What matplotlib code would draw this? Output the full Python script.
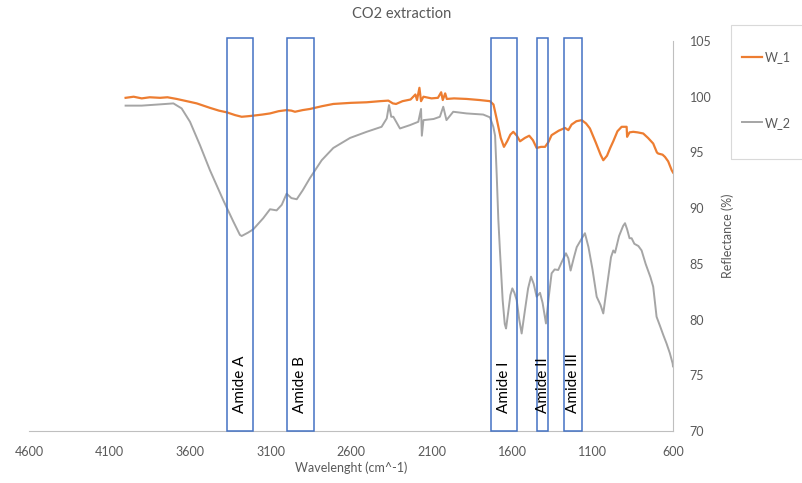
import matplotlib
matplotlib.use('Agg')
import matplotlib.pyplot as plt
from matplotlib.patches import Rectangle

plt.rcParams['font.family'] = ['Lato', 'DejaVu Sans']

# W_1 spectrum (wavenumber, reflectance)
wn1 = [4000, 3950, 3900, 3850, 3786, 3740, 3683, 3620, 3558, 3476, 3420, 3372,
       3320, 3279, 3240, 3207, 3150, 3103, 3050, 3000, 2970, 2948, 2900, 2855,
       2780, 2710, 2600, 2503, 2420, 2368, 2340, 2320, 2280, 2230, 2200, 2190,
       2175, 2165, 2150, 2100, 2060, 2040, 2030, 2015, 2005, 1960, 1882, 1800,
       1737, 1715, 1695, 1670, 1650, 1630, 1610, 1592, 1570, 1550, 1520, 1493,
       1470, 1447, 1420, 1395, 1375, 1354, 1310, 1271, 1250, 1230, 1200, 1167,
       1140, 1116, 1080, 1050, 1033, 1010, 990, 971, 945, 919, 888, 885, 870,
       847, 820, 785, 755, 723, 700, 692, 665, 650, 630, 608, 600]
r1 = [99.9, 100.0, 99.85, 99.95, 99.9, 99.95, 99.8, 99.6, 99.4, 99.0, 98.75, 98.6,
      98.35, 98.2, 98.25, 98.3, 98.4, 98.5, 98.7, 98.8, 98.75, 98.65, 98.8, 98.9,
      99.15, 99.35, 99.45, 99.5, 99.6, 99.65, 99.4, 99.35, 99.6, 99.75, 100.2, 99.7,
      100.8, 99.6, 100.0, 99.85, 99.9, 100.4, 99.7, 100.3, 99.8, 99.85, 99.8, 99.7,
      99.6, 99.3, 98.0, 96.3, 95.5, 96.0, 96.6, 96.85, 96.5, 96.0, 96.3, 96.5,
      96.1, 95.4, 95.5, 95.5, 95.9, 96.55, 96.95, 97.2, 97.0, 97.5, 97.8, 97.9,
      97.6, 97.15, 95.9, 94.8, 94.3, 94.7, 95.4, 96.0, 96.9, 97.3, 97.3, 96.4, 96.8,
      96.85, 96.8, 96.7, 96.3, 95.8, 95.0, 94.9, 94.8, 94.6, 94.2, 93.4, 93.2]

# W_2 spectrum
wn2 = [4000, 3900, 3800, 3703, 3652, 3600, 3538, 3476, 3393, 3331, 3290, 3279,
       3240, 3207, 3145, 3103, 3062, 3030, 3000, 2970, 2937, 2900, 2855, 2782,
       2710, 2606, 2503, 2410, 2378, 2364, 2350, 2337, 2296, 2234, 2182, 2165,
       2160, 2150, 2087, 2048, 2027, 2007, 1965, 1882, 1779, 1737, 1716, 1705,
       1695, 1685, 1675, 1658, 1645, 1637, 1625, 1610, 1598, 1585, 1571, 1555,
       1540, 1520, 1500, 1482, 1465, 1447, 1426, 1410, 1389, 1372, 1354, 1335,
       1313, 1290, 1265, 1250, 1236, 1215, 1198, 1170, 1147, 1125, 1100, 1074,
       1050, 1033, 1010, 985, 971, 960, 935, 910, 898, 885, 870, 857, 840, 815,
       795, 770, 740, 723, 702, 680, 660, 640, 620, 602, 600]
r2 = [99.2, 99.2, 99.3, 99.4, 98.95, 97.75, 95.65, 93.4, 90.7, 88.8, 87.6, 87.5,
      87.8, 88.1, 89.1, 89.9, 89.8, 90.3, 91.3, 90.9, 90.8, 91.6, 92.7, 94.3,
      95.4, 96.3, 96.85, 97.3, 98.05, 99.25, 98.2, 98.2, 97.15, 97.45, 97.75, 98.9,
      96.5, 97.9, 98.0, 98.2, 99.1, 97.9, 98.65, 98.5, 98.4, 98.15, 97.3, 96.5,
      93.0, 89.0, 86.2, 81.75, 79.6, 79.2, 80.5, 82.2, 82.8, 82.4, 81.75, 80.0,
      78.75, 80.8, 82.8, 83.85, 83.2, 82.05, 82.4, 81.5, 79.65, 82.0, 84.15, 84.5,
      84.45, 85.2, 85.95, 85.5, 84.4, 85.6, 86.5, 87.2, 87.75, 86.5, 84.5, 82.05,
      81.3, 80.55, 83.0, 85.6, 86.2, 86.0, 87.5, 88.4, 88.65, 88.1, 87.3, 87.3, 86.8, 86.6,
      86.2, 85.0, 83.8, 82.95, 80.25, 79.4, 78.6, 77.85, 77.0, 76.05, 75.8]

# amide bands (start, end wavenumber)
band_names = ['Amide A', 'Amide B', 'Amide I', 'Amide II', 'Amide III']
band_hi = [3372, 3000, 1732, 1443, 1277]
band_lo = [3207, 2830, 1571, 1375, 1163]

fig = plt.figure(figsize=(8.03, 4.83), dpi=100)
ax = fig.add_axes([29 / 803, 52 / 483, 644 / 803, 390 / 483])

ax.plot(wn1, r1, color='#ED7D31', lw=1.6, label='W_1')
ax.plot(wn2, r2, color='#A5A5A5', lw=1.4, label='W_2')

for name, hi, lo in zip(band_names, band_hi, band_lo):
    ax.add_patch(Rectangle((lo, 70), hi - lo, 35.25, fill=False,
                           edgecolor='#4472C4', lw=1.1, clip_on=False, zorder=3))
    ax.text((hi + lo) / 2, 71.6, name, rotation=90, ha='center', va='bottom',
            fontsize=11, color='black')

ax.set_xlim(4600, 600)
ax.set_ylim(70, 105)
ax.set_xticks([4600, 4100, 3600, 3100, 2600, 2100, 1600, 1100, 600])
ax.set_yticks([70, 75, 80, 85, 90, 95, 100, 105])
ax.yaxis.tick_right()
ax.yaxis.set_label_position('right')
ax.tick_params(length=0, labelsize=9, labelcolor='#595959')
ax.tick_params(axis='x', pad=11)
ax.tick_params(axis='y', pad=12)

for s in ['left', 'top']:
    ax.spines[s].set_visible(False)
ax.spines['bottom'].set_color('#bfbfbf')
ax.spines['right'].set_color('#bfbfbf')

ax.set_xlabel('Wavelenght (cm^-1)', fontsize=9, color='#595959', labelpad=2)
ax.set_ylabel('Reflectance (%)', fontsize=9, color='#595959', labelpad=7)
fig.suptitle('CO2 extraction', fontsize=10.5, color='#595959', y=0.985)

# legend: box runs off the right edge like in the original
fig.add_artist(Rectangle((731 / 803, 1 - 159 / 483), 0.2, 134 / 483,
                         transform=fig.transFigure, fill=False,
                         edgecolor='#d9d9d9', lw=0.8))
leg = fig.legend(loc='upper left', bbox_to_anchor=(742 / 803, 1 - 51 / 483),
                 frameon=False, fontsize=9, handlelength=1.6,
                 handletextpad=0.2, labelspacing=4.3,
                 borderpad=0, borderaxespad=0)
for t in leg.get_texts():
    t.set_color('#595959')

fig.savefig('out.png', dpi=100)
